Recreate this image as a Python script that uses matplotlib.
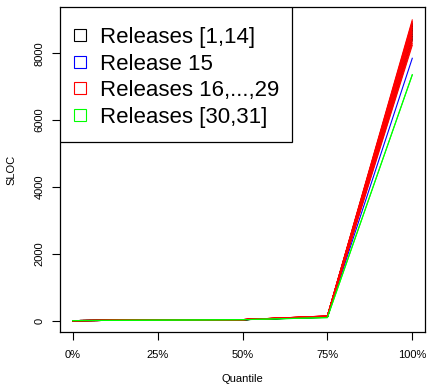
import matplotlib.pyplot as plt
from matplotlib.lines import Line2D
from matplotlib.patches import Rectangle

plt.rcParams['font.family'] = ['Liberation Sans', 'DejaVu Sans']

# quantile positions (0%, 25%, 50%, 75%, 100%)
probs = [0.0, 0.25, 0.5, 0.75, 1.0]

# SLOC quantiles per release group
q_black = [
    [1, 14, 28, 100, 8400],
    [1, 14, 28, 100, 8450],
    [1, 14, 28, 105, 8500],
    [1, 14, 28, 105, 8550],
    [1, 14, 28, 110, 8600],
    [1, 14, 28, 110, 8650],
    [1, 14, 28, 115, 8700],
    [1, 14, 28, 115, 8700],
    [1, 14, 28, 120, 8750],
    [1, 14, 28, 120, 8800],
    [1, 14, 28, 120, 8800],
    [1, 14, 28, 125, 8850],
    [1, 14, 28, 125, 8850],
    [1, 14, 28, 130, 8900],
]
q_blue = [[1, 14, 28, 110, 7850]]
q_red = [
    [1, 14, 30, 140, 8996],
    [1, 14, 30, 140, 8950],
    [1, 14, 30, 138, 8910],
    [1, 14, 30, 138, 8870],
    [1, 14, 30, 135, 8820],
    [1, 14, 30, 135, 8770],
    [1, 14, 30, 132, 8720],
    [1, 14, 30, 130, 8660],
    [1, 14, 30, 128, 8600],
    [1, 14, 30, 126, 8530],
    [1, 14, 30, 124, 8450],
    [1, 14, 30, 120, 8370],
    [1, 14, 30, 118, 8300],
    [1, 14, 30, 115, 8240],
]
q_green = [
    [1, 14, 28, 90, 7360],
    [1, 14, 28, 90, 7350],
]

groups = [
    ('Releases [1,14]', 'black', q_black),
    ('Release 15', 'blue', q_blue),
    ('Releases 16,...,29', 'red', q_red),
    ('Releases [30,31]', '#00ff00', q_green),
]

fig = plt.figure(figsize=(4.28, 3.85), dpi=100)
ax = fig.add_axes([0.1402, 0.1377, 0.8528, 0.8442])

for label, color, rows in groups:
    for q in rows:
        ax.plot(probs, q, color=color, lw=0.8)

ax.set_xlim(-0.0375, 1.0375)
ax.set_ylim(-340, 9385)
ax.set_xticks(probs)
ax.set_xticklabels(['0%', '25%', '50%', '75%', '100%'])
ax.set_yticks([0, 2000, 4000, 6000, 8000])
ax.set_yticklabels(['0', '2000', '4000', '6000', '8000'], rotation=90, va='center')
ax.tick_params(labelsize=8, length=6, width=0.8, pad=7)
ax.tick_params(axis='y', pad=5)
for s in ax.spines.values():
    s.set_linewidth(0.9)

ax.set_xlabel('Quantile', fontsize=8, labelpad=10)
ax.set_ylabel('SLOC', fontsize=8, labelpad=13)

# legend box, wider than its entries
ax.add_patch(Rectangle((0, 0.585), 0.636, 0.415, transform=ax.transAxes,
                       facecolor='white', edgecolor='black', lw=0.9, zorder=4))
handles = [Line2D([], [], linestyle='none', marker='s', markersize=8,
                  markerfacecolor='none', markeredgecolor=c, markeredgewidth=0.8)
           for _, c, _ in groups]
leg = ax.legend(handles, [g[0] for g in groups], loc='upper left',
                bbox_to_anchor=(-0.031, 1), borderaxespad=0, fontsize=16,
                frameon=False, handlelength=1.0, handletextpad=0.4,
                labelspacing=0.25, borderpad=0.9)
leg.set_zorder(5)

fig.savefig('out.png', dpi=100)
